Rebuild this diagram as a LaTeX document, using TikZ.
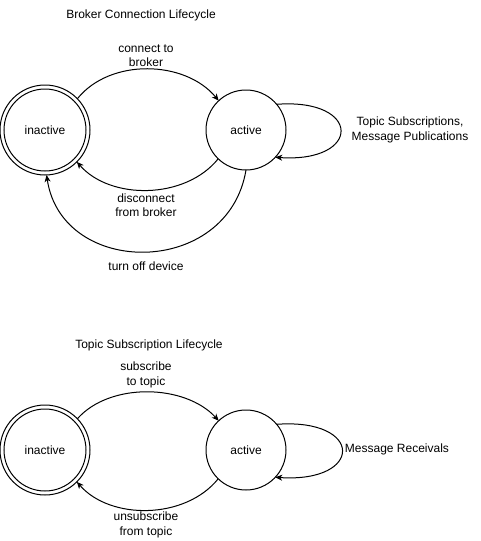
\documentclass[tikz,border=0pt]{standalone}
\usepackage{fontspec}
\setmainfont{Liberation Sans}
\usetikzlibrary{arrows.meta}
\begin{document}
\begin{tikzpicture}[x=1pt,y=-1pt,
  every node/.style={font=\fontsize{12}{14.5}\selectfont, inner sep=0pt, outer sep=0pt},
  lbl/.style={align=center},
  st/.style={circle, draw, line width=1pt, minimum size=80pt},
  stout/.style={circle, draw, line width=1pt, minimum size=90pt},
  stin/.style={circle, draw, line width=1pt, minimum size=82pt},
  edge/.style={line width=1pt, -{Stealth[length=7pt,width=6pt,inset=2pt]}}]
\useasboundingbox (0,0) rectangle (481,541);
\fill[white] (0,0) rectangle (481,541);

% ---------- top ----------
\node[lbl] (t1) at (141,15) {Broker Connection Lifecycle};
\node[stout] (inA) at (45,130) {};
\node[stin] (inAi) at (45,130) {inactive};
\node[st] (acA) at (246,130) {active};

\node[lbl] (lc) at (146,55.5) {connect to\\broker};
\node[lbl] (ltp) at (410,130) {Topic Subscriptions,\\Message Publications};
\node[lbl] (ld) at (146,205) {disconnect\\from broker};
\node[lbl] (lt) at (146,266) {turn off device};

\draw[edge] (inA.44) .. controls (110,58) and (185,60) .. (acA.133);
\draw[edge] (acA.40) .. controls (362,98) and (362,163) .. (acA.-43);
\draw[edge] (acA.-134) .. controls (185,200) and (110,200) .. (inA.-45);
\draw[edge] (acA.-90) .. controls (228,278) and (62,278) .. (inA.-88);

% ---------- bottom ----------
\node[lbl] (t2) at (149,345) {Topic Subscription Lifecycle};
\node[stout] (inB) at (45,450) {};
\node[stin] (inBi) at (45,450) {inactive};
\node[st] (acB) at (246,450) {active};

\node[lbl] (ls) at (146,375) {subscribe\\to topic};
\node[lbl] (lm) at (397,449.5) {Message Receivals};
\node[lbl] (lu) at (146,525) {unsubscribe\\from topic};

\draw[edge] (inB.44) .. controls (110,382) and (185,384) .. (acB.133);
\draw[edge] (acB.40) .. controls (364,418) and (364,483) .. (acB.-43);
\draw[edge] (acB.-134) .. controls (185,520) and (110,520) .. (inB.-45);
\end{tikzpicture}
\end{document}
